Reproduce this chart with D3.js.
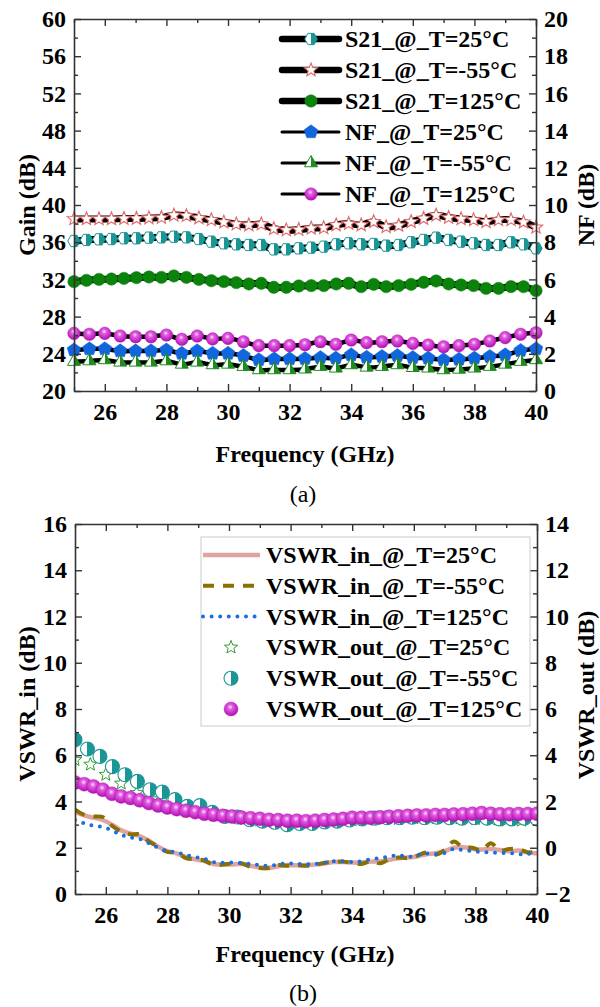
<!DOCTYPE html>
<html>
<head>
<meta charset="utf-8">
<script src="https://cdn.jsdelivr.net/npm/d3@7"></script>
<style>
  html, body { margin: 0; padding: 0; background: #fff; }
  svg { display: block; }
  text { font-family: "Liberation Serif", "Times New Roman", serif; }
</style>
</head>
<body>
<svg id="chart" width="600" height="1007"></svg>
<script>
// ---------- (a) Gain / NF versus frequency ----------
// S21 sweep: 38 samples from 25 to 40 GHz
const freqS21 = d3.range(38).map(i => 25 + i * 15 / 37);
// NF sweep: 0.5 GHz step
const freqNF = d3.range(31).map(i => 25 + i * 0.5);

const s21_25 = [36.13, 36.24, 36.31, 36.34, 36.42, 36.42, 36.49, 36.52, 36.59, 36.52, 36.34, 36.06, 35.88, 35.77, 35.7, 35.7, 35.23, 35.23, 35.34, 35.41,
  35.52, 35.77, 35.88, 35.77, 35.81, 35.63, 35.7, 35.99, 36.24, 36.49, 36.24, 36.06, 35.88, 35.7, 35.7, 35.99, 35.77, 35.34];
const s21_m55 = [38.5, 38.5, 38.5, 38.5, 38.55, 38.55, 38.6, 38.65, 38.9, 38.85, 38.6, 38.4, 38.15, 37.95, 37.85, 37.95, 37.45, 37.3, 37.35, 37.5,
  37.55, 37.85, 38.0, 37.85, 38.2, 37.65, 37.8, 38.2, 38.55, 38.9, 38.65, 38.5, 38.4, 38.2, 38.4, 38.4, 38.15, 37.6];
const s21_125 = [31.76, 31.9, 32.0, 32.04, 32.11, 32.19, 32.26, 32.22, 32.37, 32.22, 32.0, 31.86, 31.76, 31.65, 31.51, 31.58, 31.15, 31.15, 31.29, 31.33,
  31.33, 31.51, 31.58, 31.22, 31.47, 31.22, 31.33, 31.47, 31.69, 31.83, 31.51, 31.4, 31.33, 31.04, 31.04, 31.22, 31.22, 30.79];
const nf_25 = [2.2, 2.26, 2.26, 2.15, 2.15, 2.15, 2.2, 2.02, 2.15, 2.02, 2.02, 1.9, 1.67, 1.72, 1.72, 1.74,
  1.79, 1.76, 1.94, 1.81, 1.85, 1.9, 1.79, 1.76, 1.67, 1.7, 1.76, 1.85, 1.94, 2.17, 2.26];
const nf_m55 = [1.58, 1.61, 1.67, 1.54, 1.54, 1.54, 1.61, 1.43, 1.54, 1.4, 1.43, 1.31, 1.13, 1.13, 1.13, 1.17,
  1.31, 1.22, 1.4, 1.27, 1.31, 1.4, 1.25, 1.22, 1.13, 1.16, 1.22, 1.31, 1.43, 1.58, 1.67];
const nf_125 = [3.1, 3.05, 3.1, 2.96, 2.92, 2.92, 3.01, 2.78, 2.96, 2.8, 2.83, 2.65, 2.44, 2.44, 2.44, 2.49,
  2.65, 2.51, 2.74, 2.6, 2.65, 2.69, 2.56, 2.47, 2.38, 2.44, 2.51, 2.69, 2.87, 3.05, 3.13];

const legendA = ["S21_@_T=25\u00B0C", "S21_@_T=-55\u00B0C", "S21_@_T=125\u00B0C", "NF_@_T=25\u00B0C", "NF_@_T=-55\u00B0C", "NF_@_T=125\u00B0C"];

// ---------- (b) VSWR versus frequency ----------
const freqIn = d3.range(51).map(i => 25 + i * 0.3);      // input VSWR and 125 °C output sweep
const freqOutStar = d3.range(31).map(i => 25 + i * 0.5); // 25 °C output sweep
const freqOutHalf = d3.range(38).map(i => 25 + i * 15 / 37); // -55 °C output sweep

const vswrIn_25 = [3.55, 3.4, 3.3, 3.2, 3.0, 2.75, 2.62, 2.5, 2.3, 2.05,
  1.85, 1.76, 1.6, 1.5, 1.42, 1.3, 1.27, 1.28, 1.3, 1.22,
  1.15, 1.13, 1.2, 1.25, 1.24, 1.25, 1.28, 1.32, 1.38, 1.38,
  1.36, 1.36, 1.4, 1.42, 1.48, 1.55, 1.58, 1.62, 1.72, 1.76,
  1.85, 2.0, 2.02, 1.96, 1.92, 1.95, 1.9, 1.85, 1.88, 1.8, 1.75];
const vswrIn_m55 = [3.65, 3.42, 3.35, 3.33, 2.95, 2.7, 2.58, 2.58, 2.27, 2.05,
  1.82, 1.8, 1.55, 1.5, 1.45, 1.25, 1.27, 1.32, 1.33, 1.18,
  1.12, 1.12, 1.25, 1.22, 1.25, 1.22, 1.25, 1.35, 1.38, 1.4,
  1.35, 1.3, 1.42, 1.33, 1.5, 1.58, 1.55, 1.65, 1.8, 1.7,
  1.9, 2.27, 2.02, 2.0, 1.88, 2.2, 1.88, 1.95, 1.95, 1.8, 1.85];
const vswrIn_125 = [3.2, 3.05, 2.95, 2.9, 2.75, 2.55, 2.45, 2.38, 2.2, 2.0,
  1.85, 1.8, 1.68, 1.6, 1.52, 1.38, 1.35, 1.36, 1.33, 1.3,
  1.25, 1.22, 1.28, 1.32, 1.3, 1.28, 1.3, 1.35, 1.42, 1.42,
  1.38, 1.42, 1.5, 1.55, 1.62, 1.68, 1.6, 1.68, 1.75, 1.72,
  1.78, 1.95, 1.9, 1.85, 1.82, 1.8, 1.77, 1.78, 1.72, 1.75, 1.68];
// output VSWR, read on the right-hand axis
const vswrOut_25 = [3.8, 3.6, 3.16, 2.78, 2.37, 2.1, 1.93, 1.7, 1.55, 1.42, 1.32, 1.25, 1.18, 1.12, 1.08, 1.08,
  1.12, 1.15, 1.2, 1.22, 1.25, 1.25, 1.28, 1.28, 1.3, 1.28, 1.25, 1.22, 1.18, 1.18, 1.2];
const vswrOut_m55 = [4.67, 4.27, 3.95, 3.51, 3.16, 2.87, 2.51, 2.41, 2.08, 1.79, 1.82, 1.53, 1.35, 1.33, 1.21, 1.15, 1.1, 1.0, 1.05,
  1.05, 1.12, 1.15, 1.2, 1.25, 1.28, 1.3, 1.3, 1.32, 1.3, 1.32, 1.3, 1.28, 1.3, 1.28, 1.25, 1.25, 1.28, 1.25];
const vswrOut_125 = [2.82, 2.75, 2.65, 2.51, 2.33, 2.22, 2.15, 2.05, 1.93, 1.83,
  1.74, 1.67, 1.6, 1.54, 1.47, 1.43, 1.38, 1.35, 1.31, 1.28,
  1.25, 1.21, 1.2, 1.17, 1.17, 1.15, 1.17, 1.2, 1.22, 1.25,
  1.3, 1.3, 1.3, 1.32, 1.34, 1.36, 1.38, 1.4, 1.4, 1.42,
  1.42, 1.44, 1.45, 1.47, 1.5, 1.47, 1.45, 1.45, 1.46, 1.46, 1.47];

const legendB = ["VSWR_in_@_T=25\u00B0C", "VSWR_in_@_T=-55\u00B0C", "VSWR_in_@_T=125\u00B0C",
  "VSWR_out_@_T=25\u00B0C", "VSWR_out_@_T=-55\u00B0C", "VSWR_out_@_T=125\u00B0C"];

const xTicksMajor = [26, 28, 30, 32, 34, 36, 38, 40];
const xTicksMinor = [25, 27, 29, 31, 33, 35, 37, 39];

// ---------- colours / fonts ----------
const FONT = "'Liberation Serif', 'Times New Roman', serif";
const C = {
  frame: "#333",
  teal: "#1b9696",
  starRed: "#e06a6a",
  green: "#0b820b",
  blue: "#1166dd",
  triGreen: "#1e8c1e",
  pink: "#e0a4a0",
  olive: "#8a7000",
  dotBlue: "#1a6ee0",
  starGreen: "#2f9e2f"
};

const svg = d3.select("#chart").attr("font-family", FONT);
const defs = svg.append("defs");

function halfGrad(id, color) {
  const g = defs.append("linearGradient").attr("id", id).attr("x1", 0).attr("x2", 1).attr("y1", 0).attr("y2", 0);
  g.append("stop").attr("offset", "50%").attr("stop-color", "#fff");
  g.append("stop").attr("offset", "50%").attr("stop-color", color);
}
halfGrad("halfTeal", C.teal);
halfGrad("halfGreen", C.triGreen);
const sph = defs.append("radialGradient").attr("id", "sphere").attr("cx", "45%").attr("cy", "40%").attr("r", "60%").attr("fx", "45%").attr("fy", "35%");
sph.append("stop").attr("offset", "0%").attr("stop-color", "#fde6fd");
sph.append("stop").attr("offset", "30%").attr("stop-color", "#e25ce2");
sph.append("stop").attr("offset", "100%").attr("stop-color", "#b00fb0");

// ---------- marker shapes ----------
function polyPath(pts) { return "M" + pts.map(p => p[0].toFixed(2) + "," + p[1].toFixed(2)).join("L") + "Z"; }
function starPath(R, r) {
  const pts = [];
  for (let k = 0; k < 10; k++) {
    const a = -Math.PI / 2 + k * Math.PI / 5, rr = k % 2 ? r : R;
    pts.push([rr * Math.cos(a), rr * Math.sin(a)]);
  }
  return polyPath(pts);
}
function ngonPath(n, R, a0, sy = 1) {
  const pts = [];
  for (let k = 0; k < n; k++) {
    const a = a0 + k * 2 * Math.PI / n;
    pts.push([R * Math.cos(a), R * Math.sin(a) * sy]);
  }
  return polyPath(pts);
}
const M = {
  hex: { d: ngonPath(6, 6.2, 0, 1.05), fill: "url(#halfTeal)", stroke: C.teal, sw: 1 },
  starA: { d: starPath(7, 3), fill: "#fff", stroke: C.starRed, sw: 1.1 },
  dot: { circle: 6.2, fill: C.green, stroke: C.green, sw: 0.5 },
  pent: { d: ngonPath(5, 7.2, -Math.PI / 2), fill: C.blue, stroke: C.blue, sw: 0.5 },
  tri: { d: ngonPath(3, 7.5, -Math.PI / 2), fill: "url(#halfGreen)", stroke: C.triGreen, sw: 1 },
  sphere: { circle: 6.3, fill: "url(#sphere)", stroke: "#b40fb4", sw: 0.4 },
  starB: { d: starPath(7, 3), fill: "#fff", stroke: C.starGreen, sw: 1 },
  half: { circle: 7, fill: "url(#halfTeal)", stroke: C.teal, sw: 1.1 },
  sphereB: { circle: 7, fill: "url(#sphere)", stroke: "#b40fb4", sw: 0.4 }
};
function drawMarker(g, m, x, y) {
  const el = m.circle ? g.append("circle").attr("cx", x).attr("cy", y).attr("r", m.circle)
    : g.append("path").attr("d", m.d).attr("transform", `translate(${x},${y})`);
  el.attr("fill", m.fill).attr("stroke", m.stroke).attr("stroke-width", m.sw);
}

// ---------- axis frame helper ----------
function frame(g, x, yL, yR, opt) {
  const [x0, x1] = x.range(), [yb, yt] = yL.range();
  const style = sel => {
    sel.attr("font-family", FONT);
    sel.selectAll("path.domain").attr("stroke", C.frame).attr("stroke-width", 1.6);
    sel.selectAll(".tick line").attr("stroke", C.frame).attr("stroke-width", 1.4);
    sel.selectAll(".tick text").attr("font-size", 24).attr("font-weight", "bold").attr("fill", "#000")
      .attr("font-family", FONT);
  };
  // bottom
  g.append("g").attr("transform", `translate(0,${yb})`)
    .call(d3.axisBottom(x).tickValues(xTicksMajor).tickSizeInner(-7).tickSizeOuter(0).tickPadding(12).tickFormat(d3.format("d")))
    .call(style);
  g.append("g").attr("transform", `translate(0,${yb})`)
    .call(d3.axisBottom(x).tickValues(xTicksMinor).tickSizeInner(-4).tickSizeOuter(0).tickFormat(""))
    .call(style).select("path.domain").remove();
  // top
  g.append("g").attr("transform", `translate(0,${yt})`)
    .call(d3.axisTop(x).tickValues(xTicksMajor).tickSizeInner(-7).tickSizeOuter(0).tickFormat(""))
    .call(style);
  g.append("g").attr("transform", `translate(0,${yt})`)
    .call(d3.axisTop(x).tickValues(xTicksMinor).tickSizeInner(-4).tickSizeOuter(0).tickFormat(""))
    .call(style).select("path.domain").remove();
  // left
  g.append("g").attr("transform", `translate(${x0},0)`)
    .call(d3.axisLeft(yL).tickValues(opt.lMajor).tickSizeInner(-7).tickSizeOuter(0).tickPadding(8).tickFormat(d3.format("d")))
    .call(style);
  g.append("g").attr("transform", `translate(${x0},0)`)
    .call(d3.axisLeft(yL).tickValues(opt.lMinor).tickSizeInner(-4).tickSizeOuter(0).tickFormat(""))
    .call(style).select("path.domain").remove();
  // right
  g.append("g").attr("transform", `translate(${x1},0)`)
    .call(d3.axisRight(yR).tickValues(opt.rMajor).tickSizeInner(-7).tickSizeOuter(0).tickPadding(8).tickFormat(d3.format("d")))
    .call(style);
  g.append("g").attr("transform", `translate(${x1},0)`)
    .call(d3.axisRight(yR).tickValues(opt.rMinor).tickSizeInner(-4).tickSizeOuter(0).tickFormat(""))
    .call(style).select("path.domain").remove();
}
function label(g, txt, x, y, rot, bold = true, size = 24) {
  g.append("text").attr("transform", `translate(${x},${y})` + (rot ? " rotate(-90)" : ""))
    .attr("text-anchor", "middle").attr("font-size", size).attr("font-weight", bold ? "bold" : "normal")
    .attr("font-family", FONT).attr("fill", "#000").text(txt);
}

// ================= panel (a) =================
const xa = d3.scaleLinear().domain([25, 40]).range([74, 536]);
const ga = d3.scaleLinear().domain([20, 60]).range([391, 19]);
const na = d3.scaleLinear().domain([0, 20]).range([391, 19]);
const A = svg.append("g");

const seriesA = [
  { f: freqS21, v: s21_m55, y: ga, m: M.starA, w: 7 },
  { f: freqS21, v: s21_25, y: ga, m: M.hex, w: 7 },
  { f: freqS21, v: s21_125, y: ga, m: M.dot, w: 7 },
  { f: freqNF, v: nf_125, y: na, m: M.sphere, w: 4.5 },
  { f: freqNF, v: nf_25, y: na, m: M.pent, w: 4.5 },
  { f: freqNF, v: nf_m55, y: na, m: M.tri, w: 4.5 }
];
seriesA.forEach(s => {
  const pts = s.f.map((f, i) => [xa(f), s.y(s.v[i])]);
  A.append("path").attr("d", d3.line().curve(d3.curveCatmullRom.alpha(0.5))(pts))
    .attr("fill", "none").attr("stroke", "#000").attr("stroke-width", s.w).attr("stroke-linejoin", "round");
  const mg = A.append("g");
  pts.forEach(p => drawMarker(mg, s.m, p[0], p[1]));
});

frame(A, xa, ga, na, {
  lMajor: d3.range(20, 61, 4), lMinor: d3.range(22, 60, 4),
  rMajor: d3.range(0, 21, 2), rMinor: d3.range(1, 20, 2)
});

// legend (a)
const legAMarkers = [M.hex, M.starA, M.dot, M.pent, M.tri, M.sphere];
const legAWidth = [6.5, 6.5, 6.5, 3, 3, 3];
legendA.forEach((t, i) => {
  const y = 39 + i * 31;
  A.append("line").attr("x1", 282).attr("x2", 339).attr("y1", y).attr("y2", y)
    .attr("stroke", "#000").attr("stroke-width", legAWidth[i]).attr("stroke-linecap", "round");
  drawMarker(A, legAMarkers[i], 311, y);
  A.append("text").attr("x", 345).attr("y", y).attr("dy", "0.33em").attr("font-size", 24)
    .attr("font-weight", "bold").attr("font-family", FONT).attr("fill", "#000").text(t);
});

label(A, "Gain (dB)", 35, 205, true);
label(A, "NF (dB)", 594, 205, true);
label(A, "Frequency (GHz)", 305, 462, false);
label(A, "(a)", 303, 502, false, false, 24);

// ================= panel (b) =================
const xb = d3.scaleLinear().domain([25, 40]).range([75, 537]);
const yb = d3.scaleLinear().domain([0, 16]).range([894, 524]);
const yr = d3.scaleLinear().domain([-2, 14]).range([894, 524]);
const B = svg.append("g");
const clipB = defs.append("clipPath").attr("id", "clipB");
clipB.append("rect").attr("x", 75).attr("y", 524).attr("width", 462).attr("height", 370);
const plotB = B.append("g").attr("clip-path", "url(#clipB)");

const lineIn = d3.line().curve(d3.curveCatmullRom.alpha(0.5));
const inSeries = [
  { v: vswrIn_25, stroke: C.pink, w: 4.5, dash: null, cap: "butt" },
  { v: vswrIn_m55, stroke: C.olive, w: 4, dash: "11,9", cap: "butt" },
  { v: vswrIn_125, stroke: C.dotBlue, w: 4, dash: "0,8.6", cap: "round" }
];
inSeries.forEach(s => {
  plotB.append("path").attr("d", lineIn(freqIn.map((f, i) => [xb(f), yb(s.v[i])])))
    .attr("fill", "none").attr("stroke", s.stroke).attr("stroke-width", s.w)
    .attr("stroke-dasharray", s.dash).attr("stroke-linecap", s.cap).attr("stroke-linejoin", "round");
});
const outSeries = [
  { f: freqOutStar, v: vswrOut_25, m: M.starB },
  { f: freqOutHalf, v: vswrOut_m55, m: M.half },
  { f: freqIn, v: vswrOut_125, m: M.sphereB }
];
outSeries.forEach(s => {
  const mg = plotB.append("g");
  s.f.forEach((f, i) => drawMarker(mg, s.m, xb(f), yr(s.v[i])));
});

frame(B, xb, yb, yr, {
  lMajor: d3.range(0, 17, 2), lMinor: d3.range(1, 16, 2),
  rMajor: d3.range(-2, 15, 2), rMinor: d3.range(-1, 14, 2)
});

// legend (b)
B.append("rect").attr("x", 201).attr("y", 537).attr("width", 329).attr("height", 189)
  .attr("fill", "#fff").attr("stroke", "#ccc").attr("stroke-width", 1);
legendB.forEach((t, i) => {
  const y = 555 + i * 30.8;
  if (i < 3) {
    const s = inSeries[i];
    B.append("line").attr("x1", 203).attr("x2", 260).attr("y1", y).attr("y2", y)
      .attr("stroke", s.stroke).attr("stroke-width", s.w).attr("stroke-dasharray", s.dash)
      .attr("stroke-linecap", s.cap);
  } else {
    drawMarker(B, outSeries[i - 3].m, 231, y);
  }
  B.append("text").attr("x", 266).attr("y", y).attr("dy", "0.33em").attr("font-size", 24)
    .attr("font-weight", "bold").attr("font-family", FONT).attr("fill", "#000").text(t);
});

label(B, "VSWR_in (dB)", 35, 704, true);
label(B, "VSWR_out (dB)", 594, 695, true);
label(B, "Frequency (GHz)", 305, 962, false);
label(B, "(b)", 303, 1001, false, false, 24);
</script>
</body>
</html>
